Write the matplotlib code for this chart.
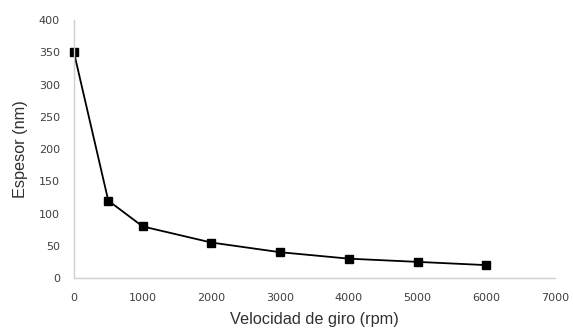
import matplotlib
matplotlib.use("Agg")
import matplotlib.pyplot as plt

velocidad = [0, 500, 1000, 2000, 3000, 4000, 5000, 6000]
espesor = [350, 120, 80, 55, 40, 30, 25, 20]
xticks = [0, 1000, 2000, 3000, 4000, 5000, 6000, 7000]
yticks = [0, 50, 100, 150, 200, 250, 300, 350, 400]

fig = plt.figure(figsize=(5.73, 3.29), dpi=100)
ax = fig.add_axes([0.129, 0.155, 0.8396, 0.784])
ax.plot(velocidad, espesor, color="black", lw=1.3, marker="s", ms=5.2,
        markerfacecolor="black", markeredgecolor="black", clip_on=False)
ax.set_xlim(0, 7000)
ax.set_ylim(0, 400)
ax.set_xticks(xticks)
ax.set_yticks(yticks)
for s in ["top", "right"]:
    ax.spines[s].set_visible(False)
for s in ["left", "bottom"]:
    ax.spines[s].set_color("#d0d0d0")
    ax.spines[s].set_linewidth(1.0)
ax.tick_params(length=0, labelsize=8, colors="#404040")
ax.tick_params(axis="x", pad=10.5)
ax.tick_params(axis="y", pad=10)
for lab in ax.get_xticklabels() + ax.get_yticklabels():
    lab.set_family("DejaVu Sans")
ax.set_xlabel("Velocidad de giro (rpm)", fontsize=11.7, family="Liberation Sans", color="#303030", labelpad=7)
ax.set_ylabel("Espesor (nm)", fontsize=11.7, family="Liberation Sans", color="#303030", labelpad=8)
fig.savefig("out.png", dpi=100)
